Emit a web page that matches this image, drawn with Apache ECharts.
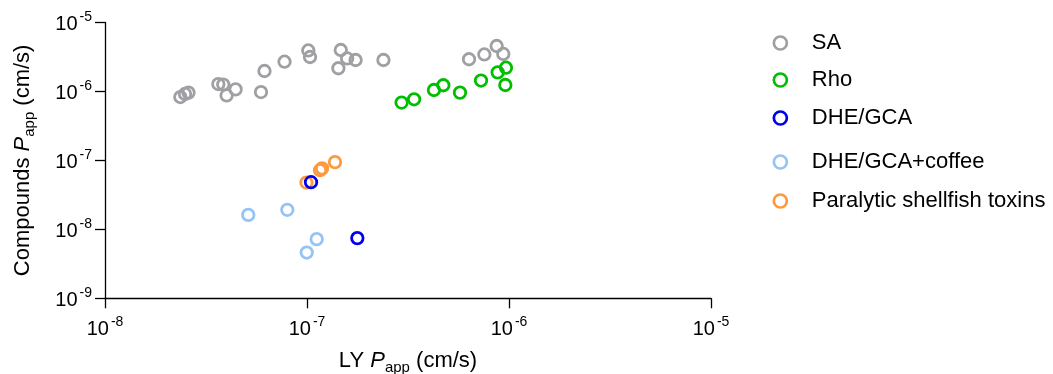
<!DOCTYPE html>
<html>
<head>
<meta charset="utf-8">
<script src="https://cdn.jsdelivr.net/npm/echarts@6/dist/echarts.min.js"></script>
<style>
  html, body { margin: 0; padding: 0; background: #fff; }
  #chart { width: 1053px; height: 374px; }
</style>
</head>
<body>
<div id="chart"></div>
<script>
// Permeability (Papp, cm/s): LY on x, compound on y; pairs are [LY, compound].
const seriesNames = ['SA', 'Rho', 'DHE/GCA', 'DHE/GCA+coffee', 'Paralytic shellfish toxins'];
const seriesColors = ['#a0a0a4', '#00bf00', '#0000ee', '#96c3f5', '#ff9a3c'];

const saData = [
  [2.36e-8, 8.3e-7], [2.49e-8, 9.2e-7], [2.59e-8, 9.6e-7],
  [3.64e-8, 1.28e-6], [3.85e-8, 1.26e-6], [4.0e-8, 8.75e-7], [4.43e-8, 1.07e-6],
  [5.92e-8, 9.8e-7], [6.16e-8, 1.98e-6], [7.74e-8, 2.70e-6],
  [1.015e-7, 3.93e-6], [1.035e-7, 3.16e-6],
  [1.47e-7, 3.99e-6], [1.43e-7, 2.17e-6], [1.58e-7, 3.01e-6], [1.74e-7, 2.86e-6],
  [2.39e-7, 2.86e-6],
  [6.34e-7, 2.93e-6], [7.55e-7, 3.44e-6], [8.69e-7, 4.56e-6], [9.37e-7, 3.50e-6]
];
const rhoData = [
  [2.94e-7, 6.9e-7], [3.39e-7, 7.7e-7], [4.25e-7, 1.05e-6], [4.73e-7, 1.23e-6],
  [5.72e-7, 9.6e-7], [7.27e-7, 1.44e-6], [8.79e-7, 1.89e-6], [9.66e-7, 2.21e-6],
  [9.59e-7, 1.24e-6]
];
const dheGcaData = [
  [1.047e-7, 4.83e-8], [1.775e-7, 7.46e-9]
];
const dheGcaCoffeeData = [
  [5.12e-8, 1.62e-8], [7.99e-8, 1.92e-8], [1.117e-7, 7.21e-9], [9.97e-8, 4.61e-9]
];
const pstData = [
  [9.94e-8, 4.77e-8], [1.16e-7, 7.21e-8], [1.187e-7, 7.66e-8], [1.376e-7, 9.45e-8]
];

// Decade range of both log axes
const xRange = [1e-8, 1e-5];
const yRange = [1e-9, 1e-5];

const seriesData = [saData, rhoData, dheGcaData, dheGcaCoffeeData, pstData];
const legendCenters = [42, 79, 117, 161, 200];

const FONT = 'Liberation Sans, Arial, Helvetica, sans-serif';

function powLabel(v) {
  const e = Math.round(Math.log10(v));
  return '{b|10}{sup|' + e + '}';
}

const tickRich = {
  b: { fontSize: 20, fontFamily: FONT, color: '#000', lineHeight: 24, verticalAlign: 'bottom' },
  sup: { fontSize: 14, fontFamily: FONT, color: '#000', lineHeight: 14, verticalAlign: 'top', padding: [0, 0, 0, 2] }
};

const titleRich = {
  t: { fontSize: 22, fontFamily: FONT, color: '#000', lineHeight: 28 },
  i: { fontSize: 22, fontFamily: FONT, color: '#000', fontStyle: 'italic', lineHeight: 28 },
  sub: { fontSize: 15, fontFamily: FONT, color: '#000', lineHeight: 15, verticalAlign: 'bottom' }
};

const axisCommon = {
  type: 'log',
  logBase: 10,
  splitNumber: 4,
  splitLine: { show: false },
  minorTick: { show: false },
  axisLine: { show: true, lineStyle: { color: '#000', width: 1.3 } },
  axisTick: { show: true, length: 10, inside: false, lineStyle: { color: '#000', width: 1.3 } },
  nameLocation: 'middle'
};

const chart = echarts.init(document.getElementById('chart'), null, { renderer: 'canvas' });

chart.setOption({
  animation: false,
  backgroundColor: '#fff',
  grid: { left: 105, right: 342, top: 22.5, bottom: 75.7, containLabel: false, outerBoundsMode: 'none' },
  xAxis: Object.assign({}, axisCommon, {
    min: xRange[0], max: xRange[1],
    axisLabel: { formatter: powLabel, rich: tickRich, margin: 17 },
    name: '{t|LY }{i|P}{sub|app}{t| (cm/s)}',
    nameGap: 49,
    nameTextStyle: { rich: titleRich }
  }),
  yAxis: Object.assign({}, axisCommon, {
    min: yRange[0], max: yRange[1],
    axisLabel: { formatter: powLabel, rich: tickRich, margin: 13 },
    name: '{t|Compounds }{i|P}{sub|app}{t| (cm/s)}',
    nameGap: 68,
    nameRotate: 90,
    nameTextStyle: { rich: titleRich }
  }),
  legend: seriesNames.map((n, k) => ({
    data: [n],
    left: 772.5,
    top: legendCenters[k] - 10,
    padding: 0,
    orient: 'vertical',
    icon: 'circle',
    itemWidth: 13,
    itemHeight: 13,
    selectedMode: false,
    itemStyle: { color: 'rgba(0,0,0,0)', borderColor: seriesColors[k], borderWidth: 2.7, opacity: 1 },
    textStyle: { fontSize: 22, fontFamily: FONT, color: '#000', padding: [0, 0, 0, 20] }
  })),
  series: seriesNames.map((n, k) => ({
    name: n,
    type: 'scatter',
    data: seriesData[k],
    symbol: 'circle',
    symbolSize: 11.5,
    z: k === 2 ? 4 : 2,
    itemStyle: { color: 'rgba(0,0,0,0)', borderColor: seriesColors[k], borderWidth: 2.8, opacity: 1 },
    emphasis: { disabled: true }
  }))
});
</script>
</body>
</html>
